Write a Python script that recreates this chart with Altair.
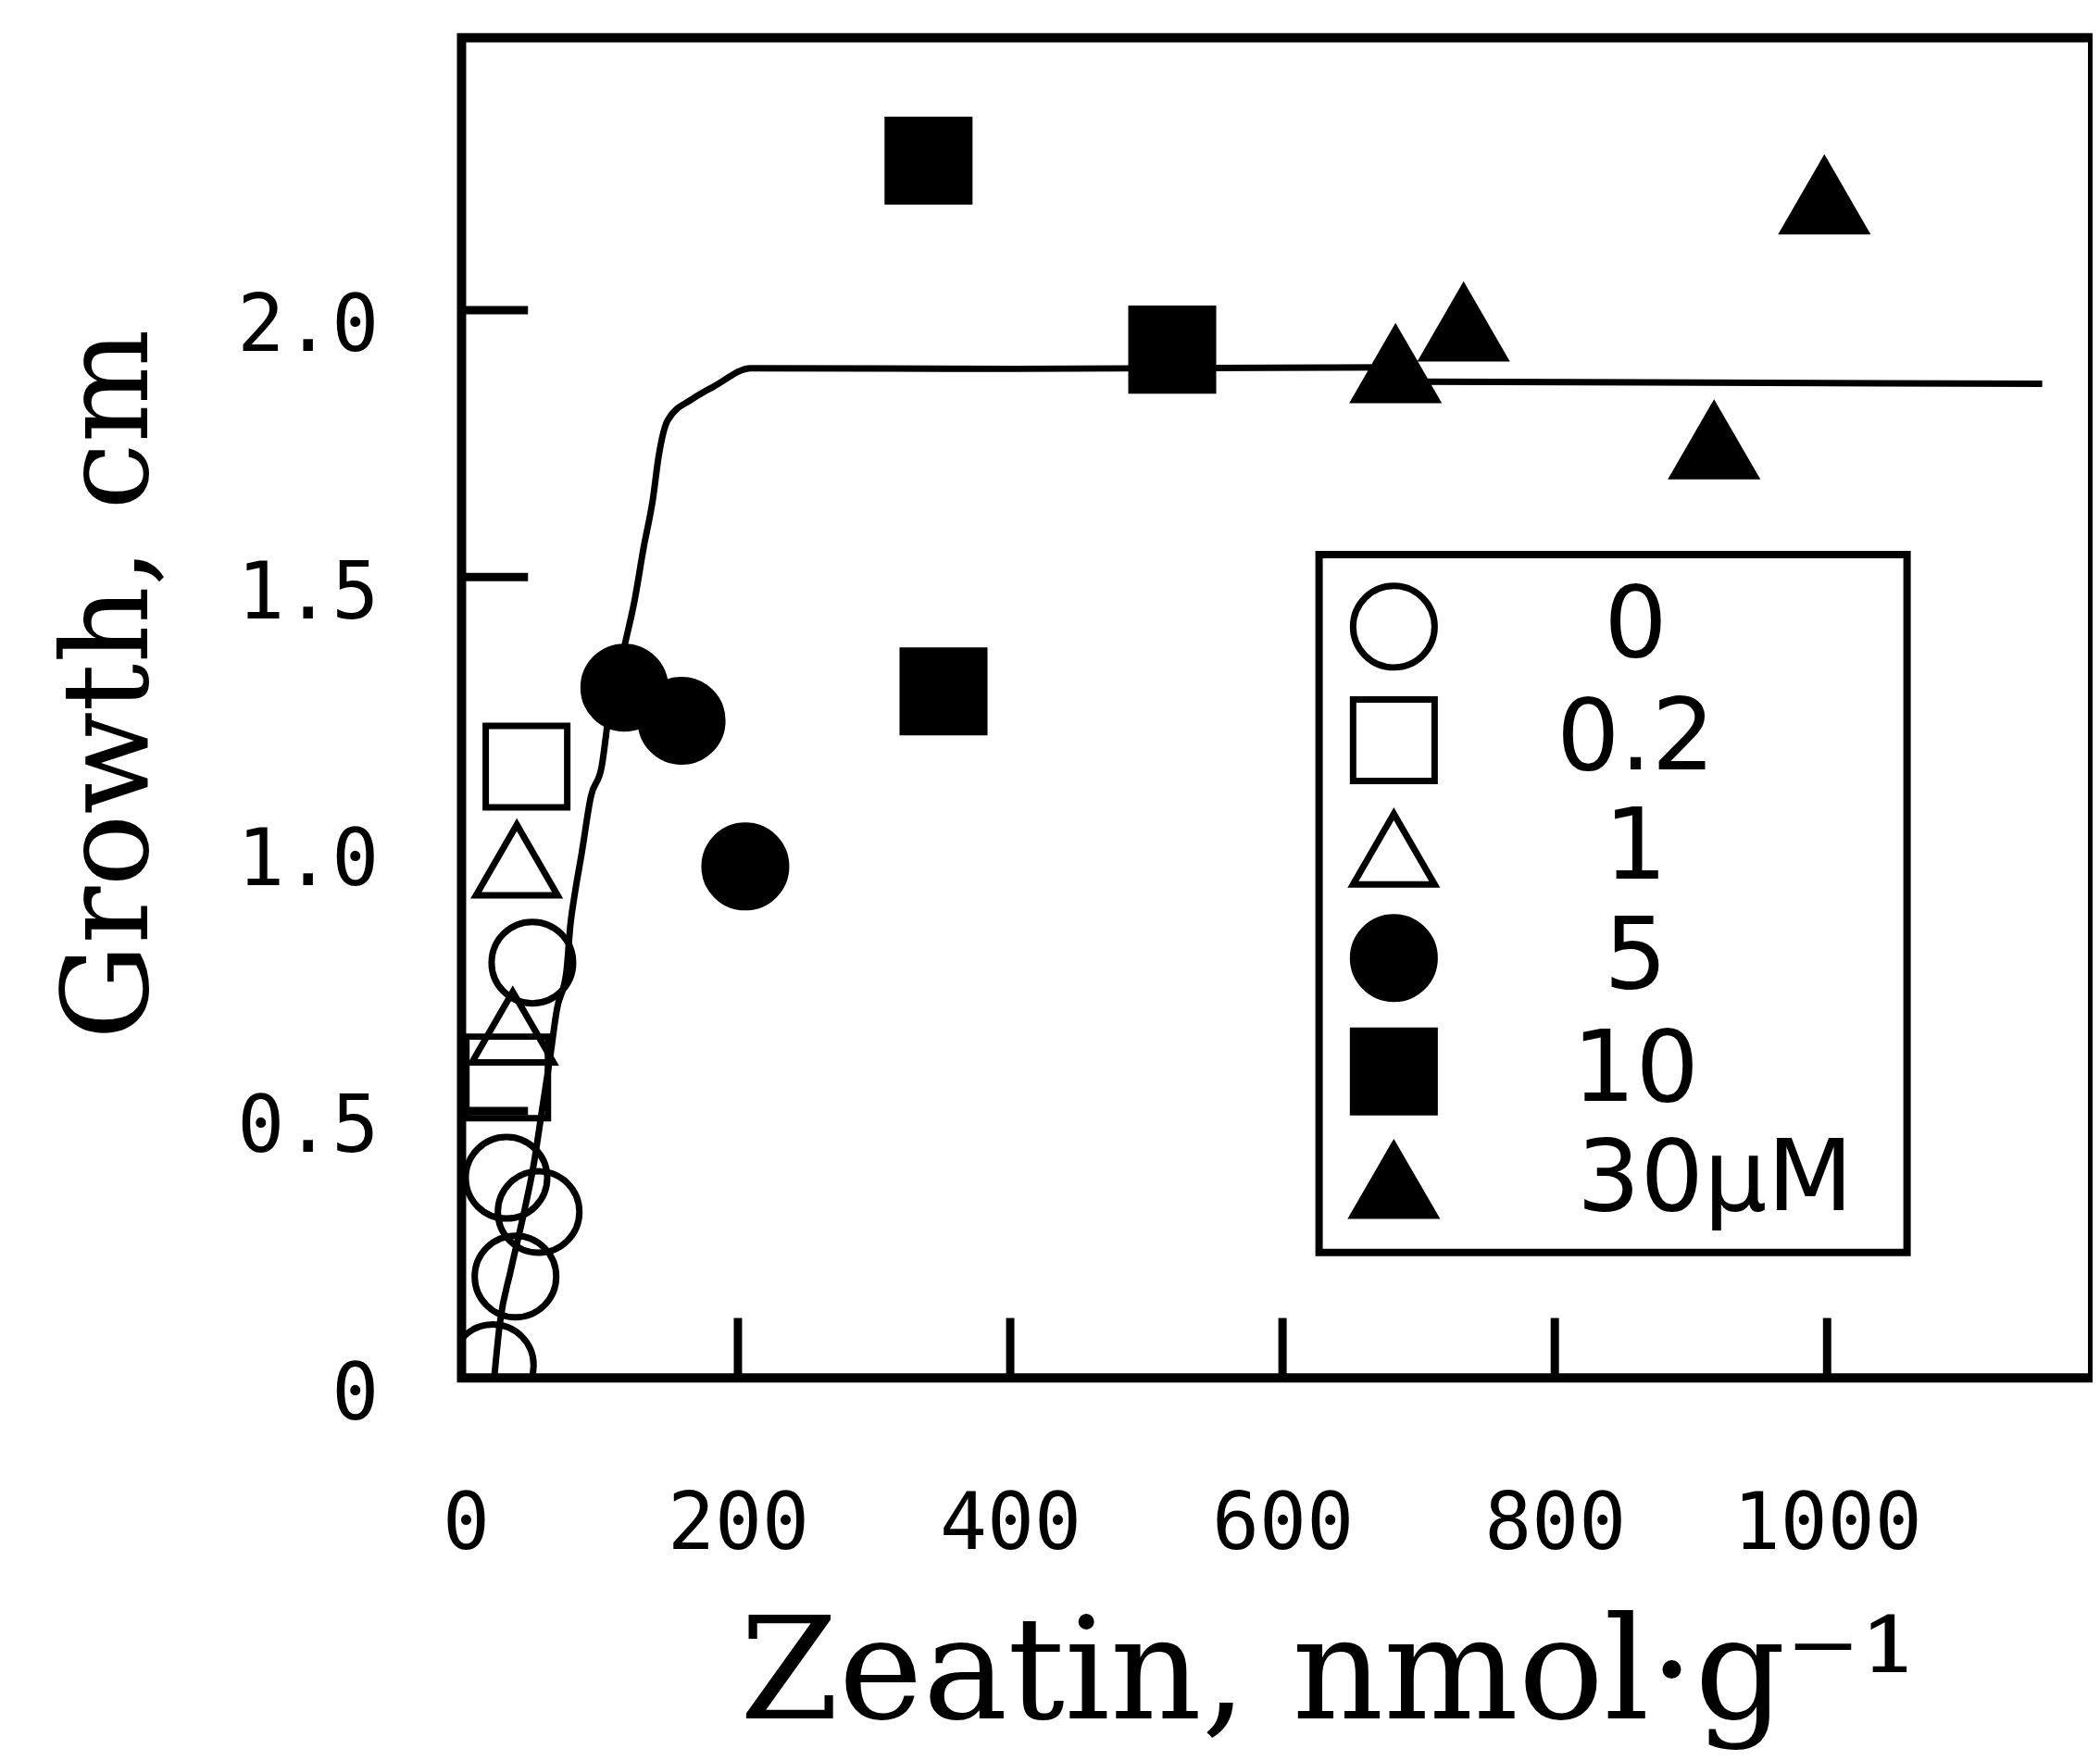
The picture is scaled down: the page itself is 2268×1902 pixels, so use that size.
import altair as alt
import pandas as pd

# ---- data ----
levels = ["0", "0.2", "1", "5", "10", "30\u03bcM"]

# 0 uM (open circles)
z0 = [49, 30, 53.6, 36.6, 20]
g0 = [0.778, 0.375, 0.311, 0.19, 0.024]
# 0.2 uM (open squares)
z02 = [44.7, 30.5]
g02 = [1.145, 0.563]
# 1 uM (open triangles)
z1 = [37.6, 34.6]
g1 = [0.97, 0.657]
# 5 uM (filled circles)
z5 = [116.6, 158.6, 205.4]
g5 = [1.293, 1.231, 0.958]
# 10 uM (filled squares)
z10 = [340, 519, 351]
g10 = [2.28, 1.926, 1.286]
# 30 uM (filled triangles)
z30 = [683, 733, 917, 998]
g30 = [1.898, 1.976, 1.755, 2.214]

# fitted curve
curve_x = [21, 25, 33, 42, 50, 56, 62, 67, 74, 77, 80, 85.4, 92, 100, 105,
           117.3, 124, 130.8, 137.6, 141.7, 148.5, 166.8, 182.4, 209.5,
           404, 680, 700, 1158]
curve_y = [0.0, 0.1, 0.2, 0.3, 0.4, 0.5, 0.6, 0.69, 0.76, 0.85, 0.904, 0.985,
           1.089, 1.146, 1.24, 1.378, 1.455, 1.556, 1.647, 1.725, 1.794, 1.834,
           1.857, 1.891, 1.89, 1.893, 1.866, 1.862]

x_labels = [0, 200, 400, 600, 800, 1000]
y_labels = [0, 0.5, 1.0, 1.5, 2.0]
x_tick_marks = [200, 400, 600, 800, 1000]
y_tick_marks = [0.5, 1.5, 2.0]

shape_range = ["circle", "square", "triangle-up", "circle", "square", "triangle-up"]
fill_range = ["transparent", "transparent", "transparent", "black", "black", "black"]
stroke_range = ["black"] * 6

# ---- tables ----
rows = []
for lvl, xs, ys in zip(levels, [z0, z02, z1, z5, z10, z30], [g0, g02, g1, g5, g10, g30]):
    for a, b in zip(xs, ys):
        rows.append({"zeatin": a, "growth": b, "conc": lvl})
pts = pd.DataFrame(rows)
curve = pd.DataFrame({"zeatin": curve_x, "growth": curve_y})
xt = pd.DataFrame({"v": x_tick_marks})
yt = pd.DataFrame({"v": y_tick_marks})

W, H = 1767, 1452

xscale = alt.Scale(domain=[-3, 1195], nice=False, zero=False)
yscale = alt.Scale(domain=[0, 2.51], nice=False, zero=False)

xaxis = alt.Axis(
    values=x_labels, format="d", ticks=False, tickSize=0, domain=False, grid=False,
    labelFont="DejaVu Sans Mono", labelFontSize=85, labelColor="black",
    labelPadding=118, labelFlush=False, labelOverlap=False, labelLimit=500,
    title="Zeatin, nmol\u00b7g\u207b\u00b9", titleFont="DejaVu Serif", titleFontSize=154,
    titleFontWeight="normal", titleColor="black", titleX=939, titleY=368,
    titleAlign="center", titleBaseline="alphabetic", titleLimit=2000,
)
yaxis = alt.Axis(
    values=y_labels, labelExpr="datum.value == 0 ? '0' : format(datum.value, '.1f')",
    ticks=False, tickSize=0, domain=False, grid=False,
    labelFont="DejaVu Sans Mono", labelFontSize=85, labelColor="black",
    labelPadding=90, labelOffset=18, labelFlush=False, labelOverlap=False, labelLimit=500,
    title="Growth, cm", titleFont="DejaVu Serif", titleFontSize=130,
    titleFontWeight="normal", titleColor="black", titleX=-341, titleY=700,
    titleAngle=270, titleAlign="center", titleBaseline="alphabetic", titleLimit=2000,
)

# pad the long label so that its number part lines up with the centred numbers
# (zero-width characters at both ends keep the spacing from being trimmed)
pad_pre = "\u200b\u2007\u2007\u00a0\u00a0"
pad_post = "\u00a0\u200b"
legend = alt.Legend(
    title=None, orient="none", legendX=929, legendY=560, direction="vertical",
    padding=24, rowPadding=5, symbolSize=7800, symbolStrokeWidth=7,
    symbolStrokeColor="black", symbolOffset=3,
    labelFont="DejaVu Sans", labelFontSize=108, labelColor="black",
    labelAlign="center", labelBaseline="middle", labelOffset=208, labelLimit=0,
    labelExpr="length(datum.label) > 3 ? '" + pad_pre + "' + datum.label + '" + pad_post + "' : datum.label",
    strokeColor="black", fillColor="white",
)

line = alt.Chart(curve).mark_line(
    color="black", strokeWidth=7, interpolate="monotone", clip=True
).encode(
    x=alt.X("zeatin:Q", scale=xscale, axis=xaxis),
    y=alt.Y("growth:Q", scale=yscale, axis=yaxis),
)

points = alt.Chart(pts).mark_point(
    size=7800, strokeWidth=7, opacity=1, clip=True
).encode(
    x=alt.X("zeatin:Q", scale=xscale, axis=xaxis),
    y=alt.Y("growth:Q", scale=yscale, axis=yaxis),
    shape=alt.Shape("conc:N", scale=alt.Scale(domain=levels, range=shape_range), legend=legend),
    fill=alt.Fill("conc:N", scale=alt.Scale(domain=levels, range=fill_range), legend=legend),
    stroke=alt.Stroke("conc:N", scale=alt.Scale(domain=levels, range=stroke_range), legend=legend),
)

xticks = alt.Chart(xt).mark_rule(color="black", strokeWidth=9).encode(
    x=alt.X("v:Q", scale=xscale, axis=xaxis),
    y=alt.value(H),
    y2=alt.value(H - 65),
)

yticks = alt.Chart(yt).mark_rule(color="black", strokeWidth=9).encode(
    y=alt.Y("v:Q", scale=yscale, axis=yaxis),
    x=alt.value(0),
    x2=alt.value(72),
)

chart = alt.layer(line, points, xticks, yticks).properties(
    width=W, height=H,
    padding={"left": 492, "top": 30, "right": 0, "bottom": 403},
    autosize=alt.AutoSizeParams(type="none"),
    background="white",
).configure_view(stroke="black", strokeWidth=10).configure_legend(strokeWidth=8)

chart.save("out.html", embed_options={"renderer": "svg", "actions": False})
